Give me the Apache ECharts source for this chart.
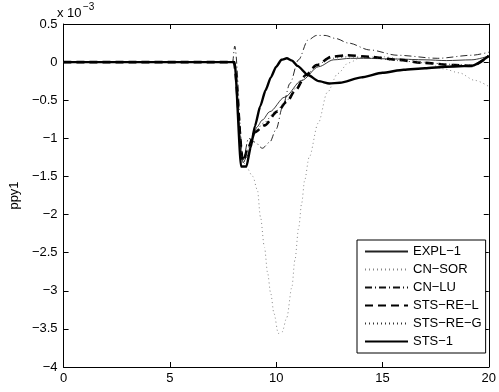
<!DOCTYPE html>
<html>
<head>
<meta charset="utf-8">
<script src="https://cdn.jsdelivr.net/npm/echarts@6/dist/echarts.min.js"></script>
<style>
  html, body { margin: 0; padding: 0; background: #fff; }
  #chart { width: 499px; height: 392px; }
</style>
</head>
<body>
<div id="chart"></div>
<script>
// values in units of 1e-3
const xTicks = [0, 5, 10, 15, 20];
const yTicks = [-4, -3.5, -3, -2.5, -2, -1.5, -1, -0.5, 0, 0.5];

const expl1T = [0, 8.0, 8.45, 8.6, 8.9, 9.1, 9.35, 9.7, 10.4, 11.2, 12.0, 12.7, 13.5, 14.1, 15.7, 17.0, 18.0, 19.2, 20];
const expl1V = [0, 0, -1.32, -1.25, -1.0, -0.85, -0.76, -0.65, -0.46, -0.24, -0.06, 0.03, 0.05, 0.05, 0.04, 0.03, 0.02, 0.03, 0.08];

const cnSorT = [0, 8.0, 8.45, 8.6, 8.9, 9.12, 9.26, 9.45, 9.6, 9.74, 9.9, 10.1, 10.28, 10.5, 10.74, 10.88, 11.06, 11.2, 11.34, 11.55, 11.98, 12.4, 12.9, 13.4, 14.0, 15.0, 16.0, 17.0, 17.9, 18.6, 19.35, 20];
const cnSorV = [0, 0, -1.3, -1.38, -1.5, -1.68, -2.03, -2.43, -2.77, -3.03, -3.3, -3.56, -3.54, -3.35, -2.95, -2.6, -2.17, -1.85, -1.55, -1.25, -0.8, -0.4, -0.15, -0.01, 0.06, 0.07, 0.04, 0.0, -0.09, -0.14, -0.24, -0.32];

const cnLuT = [0, 7.95, 8.05, 8.45, 8.7, 9.0, 9.35, 9.7, 10.0, 10.3, 10.65, 11.05, 11.5, 11.9, 12.3, 12.8, 13.4, 14.4, 15.7, 17.6, 19.2, 20];
const cnLuV = [0, 0, 0.21, -1.28, -1.0, -1.05, -1.13, -1.05, -0.88, -0.59, -0.28, 0.03, 0.29, 0.35, 0.35, 0.31, 0.25, 0.16, 0.09, 0.05, 0.09, 0.13];

const stsReLT = [0, 8.0, 8.45, 8.7, 9.0, 9.45, 10.05, 10.5, 10.9, 11.4, 11.9, 12.6, 13.3, 14.4, 15.7, 16.9, 18.4, 19.2, 20];
const stsReLV = [0, 0, -1.3, -1.1, -0.92, -0.83, -0.65, -0.52, -0.37, -0.17, -0.04, 0.07, 0.09, 0.07, 0.03, -0.01, -0.04, -0.05, 0.08];

const stsReGT = [0, 8.0, 8.45, 8.7, 9.0, 9.4, 10.0, 10.5, 11.0, 11.5, 12.0, 12.6, 13.4, 14.4, 15.7, 17.0, 18.4, 19.2, 20];
const stsReGV = [0, 0, -1.32, -1.12, -0.92, -0.8, -0.64, -0.5, -0.32, -0.14, -0.02, 0.05, 0.07, 0.06, 0.02, -0.01, -0.03, -0.04, 0.08];

const sts1T = [0, 8.05, 8.35, 8.6, 8.8, 9.0, 9.25, 9.5, 9.75, 10.0, 10.25, 10.5, 10.75, 11.0, 11.5, 12.0, 12.5, 13.0, 14.0, 15.0, 16.0, 17.0, 18.0, 19.2, 20];
const sts1V = [0, 0, -1.37, -1.37, -1.12, -0.84, -0.58, -0.37, -0.2, -0.06, 0.03, 0.05, 0.02, -0.05, -0.17, -0.25, -0.28, -0.27, -0.2, -0.14, -0.1, -0.08, -0.06, -0.05, 0.08];

const pairs = (t, v) => t.map((x, i) => [x, v[i]]);
const minus = (s) => String(s).replace('-', '\u2212');
const font = 'Liberation Sans, Arial, sans-serif';

const makeSeries = (name, t, v, color, width, type, smooth) => ({
  name: name,
  type: 'line',
  data: pairs(t, v),
  symbol: 'none',
  smooth: smooth,
  smoothMonotone: 'x',
  lineStyle: { color: color, width: width, type: type },
  itemStyle: { color: color },
  emphasis: { disabled: true },
  animation: false,
});

const axisBase = {
  type: 'value',
  axisLine: { show: true, onZero: false, lineStyle: { color: '#000', width: 1 } },
  axisTick: { show: true, inside: true, length: 5, lineStyle: { color: '#000' } },
  splitLine: { show: false },
};

const chart = echarts.init(document.getElementById('chart'));
chart.setOption({
  backgroundColor: '#fff',
  animation: false,
  grid: { left: 57, right: 8, top: 24, bottom: 25 },
  xAxis: [
    Object.assign({}, axisBase, {
      position: 'bottom',
      min: xTicks[0], max: xTicks[xTicks.length - 1], interval: 5,
      axisLabel: { color: '#000', fontSize: 13, fontFamily: font, margin: 5 },
    }),
    Object.assign({}, axisBase, {
      position: 'top',
      min: xTicks[0], max: xTicks[xTicks.length - 1], interval: 5,
      axisLabel: { show: false },
    }),
  ],
  yAxis: [
    Object.assign({}, axisBase, {
      position: 'left',
      min: yTicks[0], max: yTicks[yTicks.length - 1], interval: 0.5,
      name: 'ppy1',
      nameLocation: 'middle',
      nameGap: 41,
      nameTextStyle: { color: '#000', fontSize: 13, fontFamily: font },
      axisLabel: { color: '#000', fontSize: 13, fontFamily: font, margin: 6, formatter: minus },
    }),
    Object.assign({}, axisBase, {
      position: 'right',
      min: yTicks[0], max: yTicks[yTicks.length - 1], interval: 0.5,
      axisLabel: { show: false },
    }),
  ],
  legend: {
    orient: 'vertical',
    left: 357,
    top: 240,
    padding: [5, 4, 5, 7],
    itemWidth: 43,
    itemHeight: 14,
    itemGap: 5,
    borderColor: '#000',
    borderWidth: 1,
    backgroundColor: '#fff',
    itemStyle: { opacity: 0 },
    textStyle: { color: '#000', fontSize: 13, fontFamily: font },
    formatter: (n) => n.replace(/-/g, '\u2212'),
    selectedMode: false,
  },
  graphic: [
    { type: 'text', left: 57, top: 7, style: { text: 'x 10', fontSize: 13, fontFamily: font, fill: '#000' } },
    { type: 'text', left: 83, top: 2, style: { text: '\u22123', fontSize: 10, fontFamily: font, fill: '#000' } },
  ],
  series: [
    makeSeries('EXPL-1', expl1T, expl1V, '#222', 0.9, 'solid', 0.3),
    makeSeries('CN-SOR', cnSorT, cnSorV, '#888', 1, [1, 3], 0.3),
    makeSeries('CN-LU', cnLuT, cnLuV, '#111', 0.9, [7, 3, 1, 3], 0.3),
    makeSeries('STS-RE-L', stsReLT, stsReLV, '#000', 2.6, [8, 5], 0.3),
    makeSeries('STS-RE-G', stsReGT, stsReGV, '#333', 1, [1, 3], 0.3),
    makeSeries('STS-1', sts1T, sts1V, '#000', 2.4, 'solid', 0.2),
  ],
});
</script>
</body>
</html>
